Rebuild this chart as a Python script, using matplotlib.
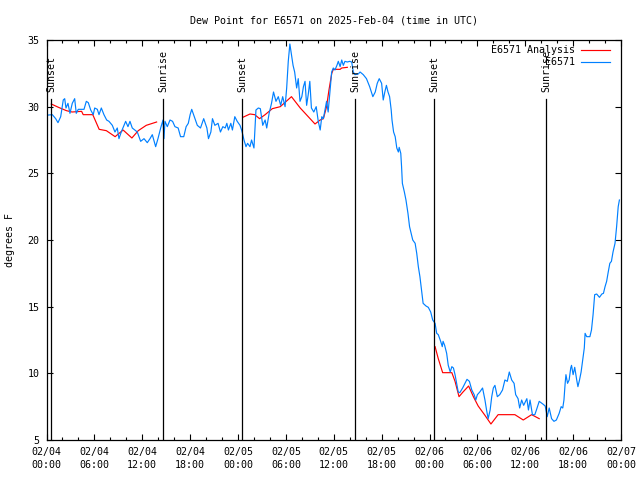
import datetime as dt
import matplotlib
matplotlib.use("Agg")
import matplotlib.pyplot as plt
import matplotlib.dates as mdates

# hours after 2025-02-04 00:00 UTC, dew point in degrees F
obsHours = [0.19, 0.73, 1.15, 1.44, 1.78, 2.1, 2.28, 2.44, 2.69, 2.94, 3.23, 3.53, 3.73, 3.98, 4.7,
            4.99, 5.24, 5.54, 5.86, 6.04, 6.37, 6.58, 6.87, 7.2, 7.54, 7.83, 8.25, 8.58, 8.87, 9.08,
            9.37, 9.71, 9.92, 10.21, 10.46, 10.75, 11.38, 11.8, 12.22, 12.63, 12.97, 13.26, 13.68, 13.97,
            14.31, 14.6, 14.72, 14.85, 15.14, 15.48, 15.8, 16.1, 16.5, 16.8, 17.2, 17.5, 17.77, 18.0,
            18.2, 18.6, 18.9, 19.3, 19.7, 20.1, 20.3, 20.6, 20.8, 21.1, 21.5, 21.8, 22.1, 22.4, 22.6,
            22.8, 23.1, 23.3, 23.6, 23.9, 24.25, 24.45, 24.6, 24.75, 25.0, 25.2, 25.5, 25.7, 26.0,
            26.25, 26.55, 26.8, 27.1, 27.4, 27.6, 27.9, 28.2, 28.45, 28.76, 29.05, 29.35, 29.6, 29.9,
            30.1, 30.3, 30.5, 30.7, 30.9, 31.1, 31.35, 31.55, 31.77, 32.0, 32.2, 32.4, 32.6, 32.8,
            33.0, 33.2, 33.5, 33.8, 34.06, 34.3, 34.5, 34.7, 34.9, 35.1, 35.3, 35.5, 35.74, 35.94,
            36.15, 36.4, 36.57, 36.8, 37.0, 37.2, 37.4, 37.7, 38.0, 38.25, 38.45, 38.66, 39.07, 39.3,
            39.7, 40.1, 40.5, 40.9, 41.2, 41.45, 41.7, 42.0, 42.2, 42.4, 42.6, 42.8, 43.0, 43.2, 43.3,
            43.5, 43.7, 43.9, 44.1, 44.2, 44.4, 44.5, 44.6, 44.85, 45.05, 45.3, 45.5, 45.7, 45.9,
            46.2, 46.4, 46.6, 46.8, 47.0, 47.2, 47.56, 47.85, 48.15, 48.4, 48.7, 48.9, 49.1, 49.4,
            49.6, 49.7, 49.9, 50.15, 50.35, 50.6, 50.8, 51.0, 51.2, 51.4, 51.6, 51.8, 52.15, 52.45,
            52.7, 53.0, 53.3, 53.6, 53.8, 54.0, 54.3, 54.65, 54.95, 55.15, 55.35, 55.6, 55.8, 56.0,
            56.2, 56.5, 56.8, 57.15, 57.45, 57.75, 58.0, 58.3, 58.6, 58.8, 59.1, 59.3, 59.55, 59.8,
            60.2, 60.4, 60.6, 60.9, 61.2, 61.4, 61.75, 62.2, 62.5, 62.75, 63.0, 63.3, 63.6, 63.9,
            64.25, 64.5, 64.7, 64.85, 65.0, 65.1, 65.3, 65.5, 65.7, 65.8, 66.0, 66.2, 66.45, 66.6,
            66.8, 67.0, 67.2, 67.4, 67.5, 67.7, 68.1, 68.3, 68.5, 68.7, 68.95, 69.3, 69.6, 69.8,
            70.0, 70.2, 70.4, 70.6, 70.8, 71.0, 71.25, 71.45, 71.65, 71.8]
obsDew = [29.37, 29.4, 29.1, 28.8, 29.25, 30.5, 30.6, 29.9, 30.25, 29.5, 30.25, 30.6, 29.5, 29.8, 29.8,
          30.4, 30.3, 29.75, 29.4, 29.9, 29.8, 29.4, 29.9, 29.4, 29.0, 28.9, 28.6, 28.1, 28.4, 27.6,
          28.1, 28.6, 28.9, 28.5, 28.9, 28.4, 28.1, 27.4, 27.6, 27.3, 27.6, 27.9, 27.0, 27.6,
          28.4, 29.0, 27.6, 28.9, 28.5, 29.0, 28.9, 28.5, 28.4, 27.75, 27.75, 28.5, 28.75, 29.4,
          29.8, 29.1, 28.6, 28.4, 29.1, 28.4, 27.6, 28.1, 29.1, 28.6, 28.75, 28.1, 28.5, 28.4, 28.75,
          28.25, 28.75, 28.25, 29.25, 28.9, 28.6, 28.25, 27.9, 27.5, 27.0, 27.25, 27.0, 27.5, 26.9,
          29.75, 29.9, 29.85, 28.6, 29.0, 28.4, 29.5, 30.25, 31.1, 30.4, 30.75, 30.1, 30.75, 30.0,
          31.4, 33.4, 34.7, 33.9, 33.1, 32.6, 31.4, 32.1, 30.4, 30.75, 31.5, 31.9, 30.1, 30.9,
          31.9, 29.9, 29.6, 30.0, 28.9, 28.25, 29.25, 29.1, 29.75, 30.4, 29.6, 31.0, 32.6, 32.9,
          32.75, 33.1, 33.4, 33.0, 33.5, 33.1, 33.4, 33.35, 33.4, 33.35, 32.6, 32.4, 32.45, 32.6,
          32.4, 32.1, 31.5, 30.75, 31.1, 31.75, 32.1, 31.75, 30.5, 31.1, 31.6, 31.1, 30.75, 29.75, 29.0,
          28.1, 27.75, 26.9, 26.6, 26.95, 26.5, 25.5, 24.25, 23.6, 23.0, 22.0, 21.0, 20.5, 20.0,
          19.75, 19.0, 18.0, 17.25, 16.25, 15.25, 15.05, 14.95, 14.6, 14.0, 13.75, 13.0, 12.9, 12.4,
          12.0, 12.4, 12.1, 11.5, 10.6, 10.1, 10.5, 10.4, 9.9, 9.25, 8.6, 8.55, 8.9, 9.25,
          9.55, 9.4, 8.75, 8.4, 8.0, 8.4, 8.6, 8.9, 8.0, 7.25, 6.6, 7.25, 8.25, 8.9,
          9.1, 8.25, 8.4, 8.75, 9.5, 9.4, 10.1, 9.5, 9.25, 8.4, 8.1, 7.4, 8.0, 7.6,
          8.1, 7.25, 8.0, 6.9, 6.9, 7.25, 7.9, 7.7, 7.55, 6.75, 7.4, 6.6, 6.4, 6.5,
          7.0, 7.5, 7.4, 8.0, 9.25, 9.9, 9.25, 9.5, 10.4, 10.6, 9.9, 10.45, 9.5, 9.0,
          9.5, 10.1, 11.0, 11.9, 13.0, 12.75, 12.75, 13.25, 14.4, 15.9, 15.95, 15.7, 15.95, 16.0,
          16.5, 16.9, 17.6, 18.25, 18.4, 19.1, 19.75, 21.0, 22.5, 23.0]

# analysis series, three separate pieces (gaps between them)
anaHours = [
    [0.6, 1.5, 2.5, 3.2, 4.4, 4.6, 5.8, 6.6, 7.5, 8.6, 9.6, 10.7, 11.5, 12.5, 13.8],
    [24.6, 25.5, 26.1, 26.7, 27.4, 28.3, 29.3, 30.7, 31.8, 33.65, 34.3, 34.7, 35.1, 35.4, 35.75,
     35.95, 36.8, 37.0, 37.7],
    [48.7, 49.1, 49.65, 50.8, 51.2, 51.7, 52.2, 52.9, 53.5, 54.1, 54.95, 55.7, 56.6, 58.7, 59.75,
     60.8, 61.75],
]
anaDew = [
    [30.2, 29.95, 29.7, 29.6, 29.65, 29.4, 29.4, 28.3, 28.2, 27.75, 28.25, 27.65, 28.2, 28.6, 28.85],
    [29.2, 29.45, 29.4, 29.1, 29.4, 29.85, 30.0, 30.75, 29.9, 28.7, 29.0, 29.1, 30.0, 31.25, 32.5,
     32.8, 32.8, 32.9, 32.95],
    [12.0, 11.1, 10.05, 10.05, 9.4, 8.25, 8.6, 9.05, 8.25, 7.55, 6.85, 6.2, 6.9, 6.9, 6.5,
     6.9, 6.6],
]

sunEvents = [(0.55, 'Sunset'), (14.65, 'Sunrise'), (24.55, 'Sunset'),
             (38.65, 'Sunrise'), (48.55, 'Sunset'), (62.65, 'Sunrise')]

start = dt.datetime(2025, 2, 4, 0, 0)
def toTime(hours):
    return [start + dt.timedelta(hours=h) for h in hours]

plt.rcParams['font.family'] = 'DejaVu Sans Mono'
plt.rcParams['font.size'] = 7.2

fig = plt.figure(figsize=(6.4, 4.8), dpi=100)
ax = fig.add_axes([46.5/640, 40/480, (621-46.5)/640, 400/480])

blue = '#0080ff'
for hours, dews in zip(anaHours, anaDew):
    ax.plot(toTime(hours), dews, color='red', lw=0.85)
ax.plot(toTime(obsHours), obsDew, color=blue, lw=0.85)

for hours, name in sunEvents:
    t = start + dt.timedelta(hours=hours)
    ax.plot([t, t], [5, 30.55], color='black', lw=0.9)
    ax.text(t, 31.1, name, rotation=90, ha='center', va='bottom')

ax.set_xlim(start, start + dt.timedelta(hours=72))
ax.set_ylim(5, 35)
ax.set_yticks([5, 10, 15, 20, 25, 30, 35])
ax.xaxis.set_major_locator(mdates.HourLocator(byhour=[0, 6, 12, 18]))
ax.xaxis.set_minor_locator(mdates.HourLocator(byhour=range(0, 24, 2)))
ax.xaxis.set_major_formatter(mdates.DateFormatter('%m/%d\n%H:%M'))
ax.tick_params(axis='both', which='both', direction='in', top=True, right=True, width=0.8)
ax.tick_params(axis='both', which='major', length=4.5, pad=5)
ax.tick_params(axis='x', which='minor', length=2.5)
for s in ax.spines.values():
    s.set_linewidth(0.9)

ax.set_ylabel('degrees F', labelpad=9)
ax.set_title('Dew Point for E6571 on 2025-Feb-04 (time in UTC)', fontsize=7.2, pad=12)

# legend drawn gnuplot style: text right aligned, sample line on the right
fig.text(575/640, 1 - 50/480, 'E6571 Analysis', ha='right', va='center')
fig.text(575/640, 1 - 62/480, 'E6571', ha='right', va='center')
fig.add_artist(plt.Line2D([581/640, 610/640], [1 - 50/480]*2, color='red', lw=0.85))
fig.add_artist(plt.Line2D([581/640, 610/640], [1 - 62/480]*2, color=blue, lw=0.85))

for lab in ax.get_xticklabels():
    lab.set_linespacing(1.4)

fig.savefig('out.png', dpi=100)
